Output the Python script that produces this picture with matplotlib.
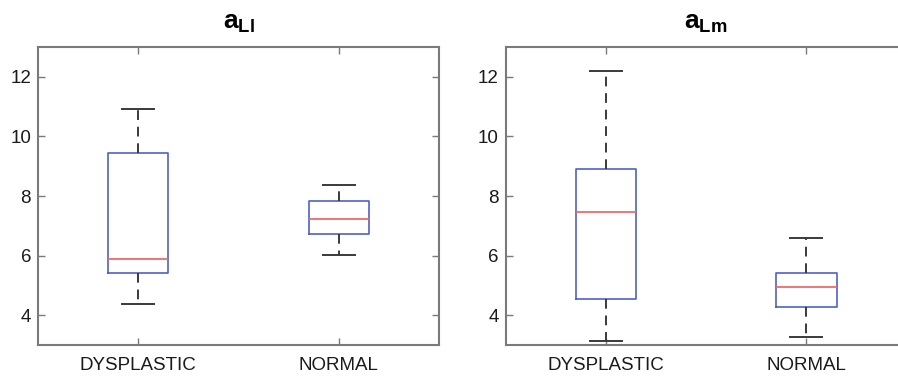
import matplotlib
matplotlib.use("Agg")
import matplotlib.pyplot as plt

plt.rcParams.update({
    "font.family": "Liberation Sans",
    "mathtext.fontset": "custom",
    "mathtext.rm": "Liberation Sans",
    "mathtext.bf": "Liberation Sans:bold",
})

groups = ["DYSPLASTIC", "NORMAL"]
titles = [r"$\mathbf{a_{Ll}}$", r"$\mathbf{a_{Lm}}$"]

# per panel: [dysplastic, normal]
whislo = [[4.36, 6.03], [3.15, 3.28]]
q1 = [[5.42, 6.74], [4.55, 4.28]]
med = [[5.88, 7.23], [7.45, 4.93]]
q3 = [[9.45, 7.82], [8.91, 5.43]]
whishi = [[10.92, 8.38], [12.2, 6.60]]

yticks = [4, 6, 8, 10, 12]

SPINE = "#7a7a7a"
BOX = "#5060c8"
MED = "#f06a6a"
WHISK = "#3a3a3a"

fig = plt.figure(figsize=(8.98, 3.77), dpi=100)
W, H = 898, 377
rects = [(38, 47, 401, 298), (505.7, 47, 401, 298)]

for p, (x0, y0, w, h) in enumerate(rects):
    ax = fig.add_axes([x0 / W, 1 - (y0 + h) / H, w / W, h / H])
    stats = []
    for i, g in enumerate(groups):
        stats.append({
            "label": g, "whislo": whislo[p][i], "q1": q1[p][i], "med": med[p][i],
            "q3": q3[p][i], "whishi": whishi[p][i], "fliers": [],
        })
    ax.bxp(stats, positions=[1, 2], widths=0.30, capwidths=0.16,
           showfliers=False,
           boxprops=dict(color=BOX, linewidth=1.2),
           medianprops=dict(color=MED, linewidth=1.3),
           whiskerprops=dict(color=WHISK, linewidth=1.4, linestyle=(0, (5, 3.5))),
           capprops=dict(color=WHISK, linewidth=1.4))
    ax.set_xlim(0.5, 2.5)
    ax.set_ylim(3, 13)
    ax.set_yticks(yticks)
    ax.set_xticks([1, 2])
    ax.set_xticklabels(groups)
    ax.tick_params(direction="in", length=5, width=1, color=SPINE,
                   top=True, right=True, labelsize=13.5, labelcolor="#1a1a1a")
    ax.tick_params(axis="x", pad=9)
    ax.tick_params(axis="y", pad=5)
    for s in ax.spines.values():
        s.set_color(SPINE)
        s.set_linewidth(1.5)
    ax.set_title(titles[p], fontsize=19, pad=13)

plt.savefig("out.png", dpi=100)
